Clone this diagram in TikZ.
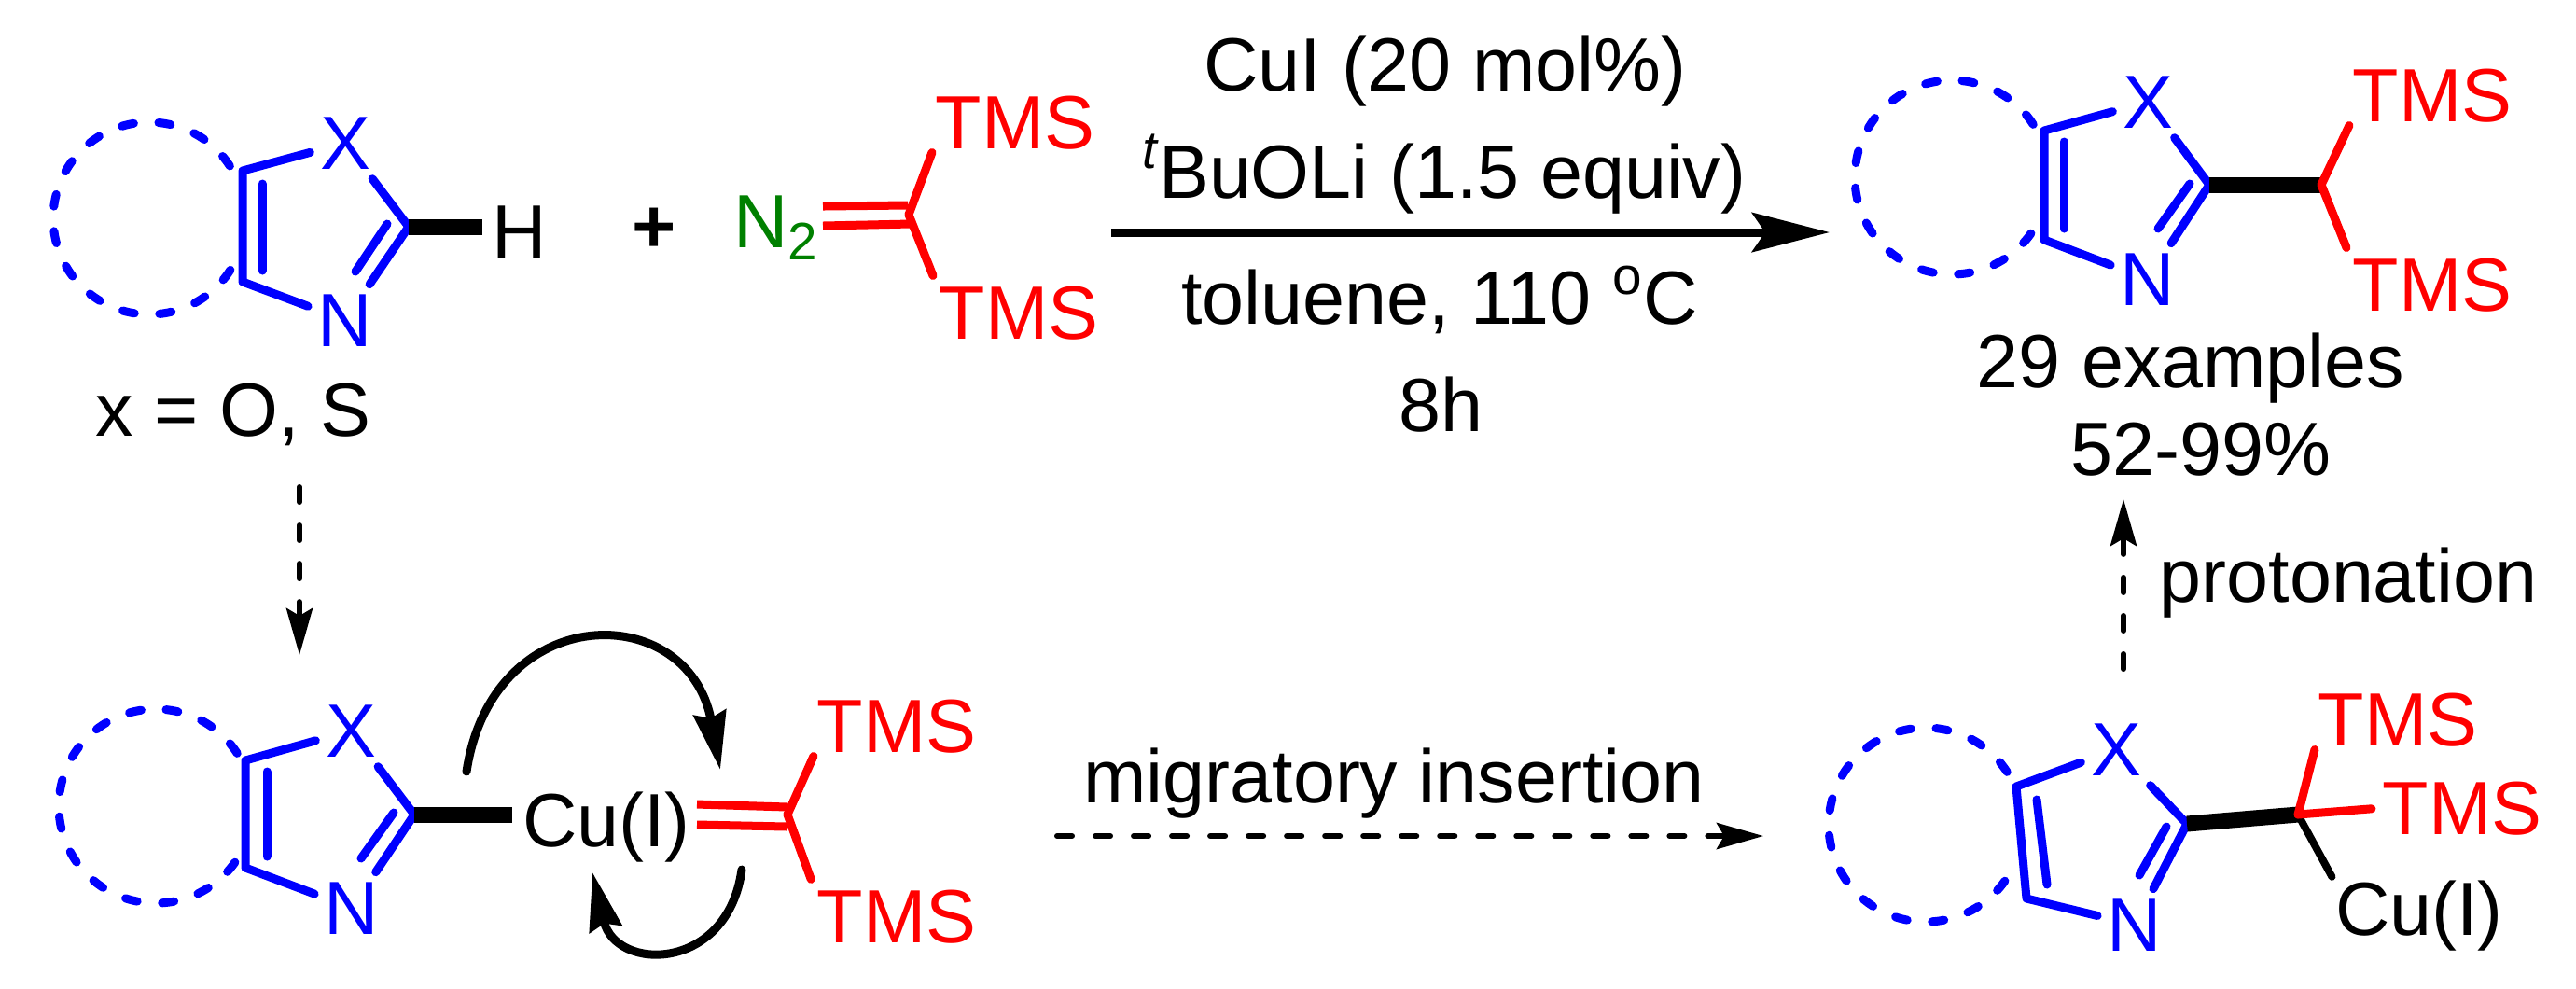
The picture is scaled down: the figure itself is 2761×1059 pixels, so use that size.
\documentclass[tikz,border=0pt]{standalone}
\usepackage{fontspec}
\setmainfont{Liberation Sans}
\usetikzlibrary{arrows.meta}
\tikzset{
  every node/.style={font=\fontsize{23}{27}\selectfont,anchor=base,inner sep=0.1cm},
  blueatom/.style={text=blue},
  redatom/.style={text=red,inner sep=0.03cm},
  greenatom/.style={text=green!50!black,inner sep=0.08cm},
  bluebond/.style={draw=blue,line width=0.09cm,line join=round,line cap=round},
  redbond/.style={draw=red,line width=0.09cm,line join=round,line cap=round},
  blackbond/.style={draw=black,line width=0.08cm,line cap=round},
  widebond/.style={draw=black,line width=0.17cm},
  ringdash/.style={draw=blue,line width=0.09cm,line cap=round,dash pattern=on 0.13cm off 0.267cm},
  mainarrow/.style={line width=0.09cm,-{Stealth[length=0.83cm,width=0.42cm,inset=0.14cm]}},
  dasharrow/.style={line width=0.06cm,line cap=round,dash pattern=on 0.16cm off 0.25cm,-{Stealth[length=0.5cm,width=0.28cm,inset=0.08cm]}},
  curvearrow/.style={line width=0.09cm,line cap=round,-{Stealth[length=0.62cm,width=0.35cm,inset=0.06cm]}}
}
\begin{document}
\begin{tikzpicture}[x=0.01cm,y=-0.01cm]
  \useasboundingbox (0,0) rectangle (2761,1059);
  % top left: substrate and diazo compound
  \node[blueatom] (xa) at (370,181) {X};
  \node[blueatom] (na) at (370,371) {N};
  \node (ha) at (557,276) {H};
  \node (plus) at (701,270) {\textbf{+}};
  \node[greenatom] (ntwo) at (832,265) {N\textsubscript{2}};
  \node[redatom] (tmsa) at (1088,159) {TMS};
  \node[redatom] (tmsb) at (1092,363) {TMS};
  \node (sub) at (250,467) {x = O, S};
  \coordinate (aa) at (260,183);
  \coordinate (ab) at (260,302);
  \coordinate (ac) at (438,243);
  \coordinate (ad) at (281,197);
  \coordinate (ae) at (281,290);
  \coordinate (af) at (415,240);
  \coordinate (ag) at (381,291);
  \coordinate (ah) at (974,230);
  \coordinate (ai) at (882,221);
  \coordinate (aj) at (973,220);
  \coordinate (ak) at (882,242);
  \coordinate (al) at (976,240);
  \draw[ringdash] (160,234) ++(-33:103) arc[start angle=-33,delta angle=-295,radius=103];
  \draw[bluebond] (xa) -- (aa) -- (ab) -- (na);
  \draw[bluebond] (xa) -- (ac) -- (na);
  \draw[bluebond] (ad) -- (ae);
  \draw[bluebond] (af) -- (ag);
  \draw[widebond] (ac) -- (ac -| ha.west);
  \draw[redbond] (tmsa.south west) -- (ah);
  \draw[redbond,shorten >=0.08cm] (ah) -- (tmsb.north west);
  \draw[redbond,line cap=butt] (ai) -- (aj);
  \draw[redbond,line cap=butt] (ak) -- (al);

  % reaction arrow and conditions
  \coordinate (mainstart) at (1191,249);
  \coordinate (mainend) at (1961,249);
  \draw[mainarrow] (mainstart) -- (mainend);
  \node (cui) at (1549,97) {CuI (20 mol\%)};
  \node (base) at (1548,212) {\textsuperscript{\itshape t}BuOLi (1.5 equiv)};
  \node (solv) at (1543,347) {toluene, 110 \textsuperscript{o}C};
  \node (time) at (1544,462) {8h};

  % top right: product
  \node[blueatom] (xb) at (2302,137) {X};
  \node[blueatom] (nb) at (2302,327) {N};
  \node[redatom] (tmsc) at (2607,130) {TMS};
  \node[redatom] (tmsd) at (2607,333) {TMS};
  \node (scope) at (2348,415) {29 examples};
  \node (yield) at (2359,509) {52-99\%};
  \coordinate (ba) at (2191,140);
  \coordinate (bb) at (2191,257);
  \coordinate (bc) at (2368,198);
  \coordinate (bd) at (2212,152);
  \coordinate (be) at (2212,245);
  \coordinate (bf) at (2347,197);
  \coordinate (bg) at (2313,245);
  \coordinate (bh) at (2488,198);
  \draw[ringdash] (2092,190) ++(-33:104) arc[start angle=-33,delta angle=-295,radius=104];
  \draw[bluebond] (xb) -- (ba) -- (bb) -- (nb);
  \draw[bluebond] (xb) -- (bc) -- (nb);
  \draw[bluebond] (bd) -- (be);
  \draw[bluebond] (bf) -- (bg);
  \draw[widebond] (bc) -- (bh);
  \draw[redbond] (tmsc.south west) -- (bh);
  \draw[redbond,shorten >=0.08cm] (bh) -- (tmsd.north west);

  % bottom left: copper carbene
  \node[blueatom] (xc) at (376,811) {X};
  \node[blueatom] (nc) at (377,1001) {N};
  \node (cua) at (650,907) {Cu(I)};
  \node[redatom] (tmse) at (961,806) {TMS};
  \node[redatom] (tmsf) at (961,1010) {TMS};
  \coordinate (ca) at (263,815);
  \coordinate (cb) at (263,930);
  \coordinate (cc) at (444,873);
  \coordinate (cd) at (286,827);
  \coordinate (ce) at (286,918);
  \coordinate (cf) at (422,871);
  \coordinate (cg) at (387,920);
  \coordinate (ch) at (844,873);
  \coordinate (ci) at (747,862);
  \coordinate (cj) at (844,865);
  \coordinate (ck) at (747,884);
  \coordinate (cl) at (844,886);
  \draw[ringdash] (167,864) ++(-33:104) arc[start angle=-33,delta angle=-295,radius=104];
  \draw[bluebond] (xc) -- (ca) -- (cb) -- (nc);
  \draw[bluebond] (xc) -- (cc) -- (nc);
  \draw[bluebond] (cd) -- (ce);
  \draw[bluebond] (cf) -- (cg);
  \draw[widebond] (cc) -- (cc -| cua.west);
  \draw[redbond] (tmse.south west) -- (ch);
  \draw[redbond,shorten >=0.08cm] (ch) -- (tmsf.north west);
  \draw[redbond,line cap=butt] (ci) -- (cj);
  \draw[redbond,line cap=butt] (ck) -- (cl);
  \coordinate (cm) at (500,827);
  \coordinate (cn) at (772,825);
  \coordinate (co) at (795,932);
  \coordinate (cp) at (635,935);
  \draw[curvearrow] (cm) .. controls (528,642) and (738,642) .. (cn);
  \draw[curvearrow] (co) .. controls (780,1042) and (660,1042) .. (cp);

  % bottom right: insertion product
  \node[blueatom] (xd) at (2268,831) {X};
  \node[blueatom] (nd) at (2288,1019) {N};
  \node[redatom] (tmsg) at (2570,799) {TMS};
  \node[redatom] (tmsh) at (2639,894) {TMS};
  \node[inner sep=0.03cm] (cub) at (2593,1002) {Cu(I)};
  \coordinate (da) at (2161,843);
  \coordinate (db) at (2172,963);
  \coordinate (dc) at (2344,883);
  \coordinate (dd) at (2183,857);
  \coordinate (de) at (2194,948);
  \coordinate (df) at (2322,886);
  \coordinate (dg) at (2293,938);
  \coordinate (dh) at (2463,873);
  \draw[ringdash] (2064,884) ++(-33:104) arc[start angle=-33,delta angle=-295,radius=104];
  \draw[bluebond] (xd) -- (da) -- (db) -- (nd);
  \draw[bluebond] (xd) -- (dc) -- (nd);
  \draw[bluebond] (dd) -- (de);
  \draw[bluebond] (df) -- (dg);
  \draw[widebond] (dc) -- (dh);
  \draw[blackbond] (dh) -- (cub.north west);
  \draw[redbond] (tmsg.south west) -- (dh);
  \draw[redbond,shorten >=0.08cm] (dh) -- (tmsh.west);

  % dashed arrows
  \coordinate (downstart) at (321,522);
  \coordinate (downend) at (321,702);
  \draw[dasharrow] (downstart) -- (downend);
  \coordinate (acrossstart) at (1133,896);
  \coordinate (acrossend) at (1890,896);
  \draw[dasharrow] (acrossstart) -- (acrossend);
  \node (migr) at (1494,860) {migratory insertion};
  \coordinate (upstart) at (2276,717);
  \coordinate (upend) at (2276,535);
  \draw[dasharrow] (upstart) -- (upend);
  \node (prot) at (2517,645) {protonation};
\end{tikzpicture}
\end{document}
